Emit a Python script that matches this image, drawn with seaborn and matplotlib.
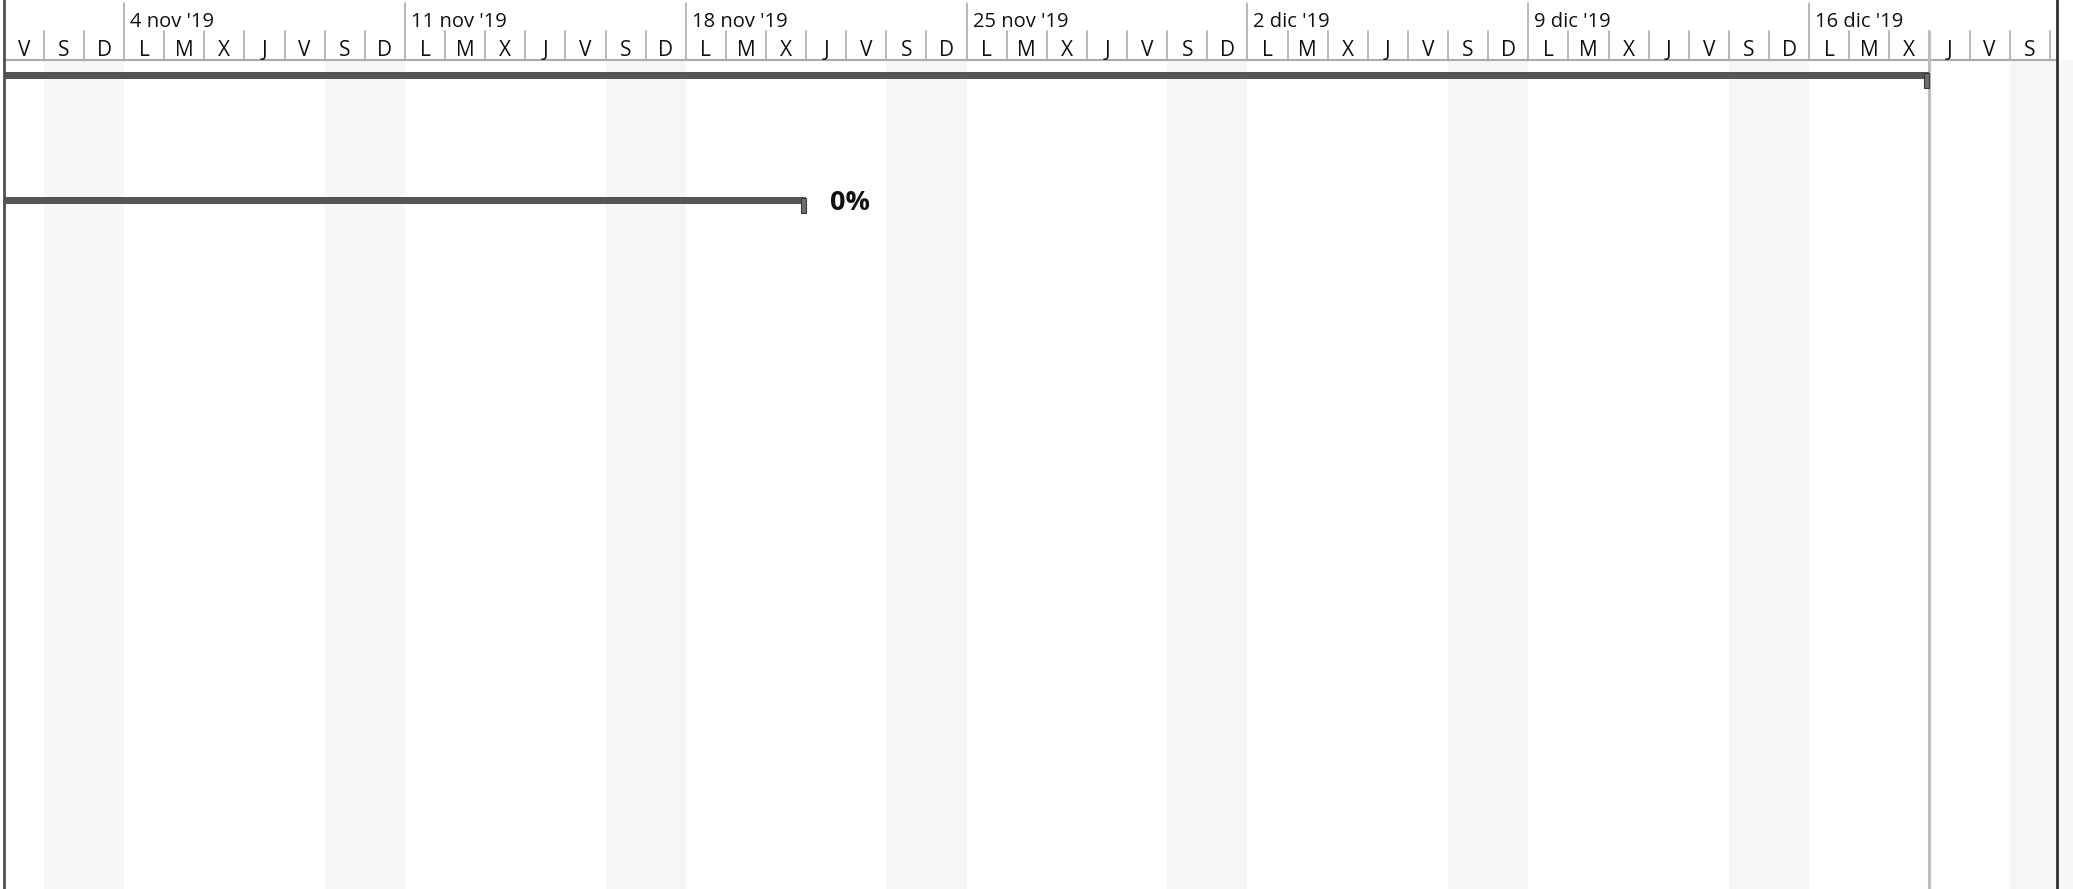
import numpy as np
import pandas as pd
import matplotlib
matplotlib.use("Agg")
import matplotlib.pyplot as plt
import matplotlib.dates as mdates
import seaborn as sns

# ---------------- data ----------------
view_start = "2019-11-01"            # first visible day (Friday)
view_days = 51                       # visible day columns (Nov 1 .. Dec 21)
day_letters = ["L", "M", "X", "J", "V", "S", "D"]   # Monday .. Sunday
month_abbr = ["ene", "feb", "mar", "abr", "may", "jun",
              "jul", "ago", "sep", "oct", "nov", "dic"]

task_starts = ["2019-10-28", "2019-10-28"]
task_ends = ["2019-12-19", "2019-11-21"]      # exclusive end (bar ends at start of this day)
task_labels = ["", "0%"]
status_date = "2019-12-19"

# ---------------- style ----------------
sns.set_theme(style="white")
plt.rcParams["font.family"] = ["Open Sans", "Noto Sans", "DejaVu Sans"]

W, H, DPI = 2073, 889, 100
DAY_PX = 40.12
LEFT_PX = 3.7
HEADER_BOTTOM = 60
ROW_Y = [75, 200]
BAR_H = 7
HDR_FS = 15

fig = plt.figure(figsize=(W / DPI, H / DPI), dpi=DPI)
ax = fig.add_axes([0, 0, 1, 1])
ax.set_axis_off()

d0 = mdates.date2num(pd.Timestamp(view_start))
px = 1.0 / DAY_PX  # one pixel in days
x_min = d0 - LEFT_PX * px
ax.set_xlim(x_min, x_min + W * px)
ax.set_ylim(H, 0)

days = pd.date_range(view_start, periods=view_days, freq="D")
dnum = mdates.date2num(days)

# weekend shading
for d, dn in zip(days, dnum):
    if d.weekday() == 5:
        ax.axvspan(dn, dn + 2, ymin=0, ymax=1 - HEADER_BOTTOM / H,
                   color="#F6F6F6", lw=0, zorder=0)

# header separators & labels
sep_col = "#ABABAB"
hdr_font = ["Open Sans", "Noto Sans", "DejaVu Sans"]
for d, dn in zip(days, dnum):
    if d.weekday() == 0:
        ax.plot([dn, dn], [3, HEADER_BOTTOM], color=sep_col, lw=1.2, zorder=2)
        ax.text(dn + 6 * px, 27, f"{d.day} {month_abbr[d.month - 1]} '{d.strftime('%y')}",
                fontsize=HDR_FS - 0.5, family=hdr_font, color="#111111",
                va="baseline", ha="left", zorder=3)
    else:
        if dn > d0:
            ax.plot([dn, dn], [31, HEADER_BOTTOM], color=sep_col, lw=1.2, zorder=2)
    ax.text(dn + 0.5, 55.5, day_letters[d.weekday()], fontsize=HDR_FS, family=hdr_font,
            color="#111111", va="baseline", ha="center", zorder=3)
# closing separator after last day
end_dn = dnum[-1] + 1
ax.plot([end_dn, end_dn], [31, HEADER_BOTTOM], color=sep_col, lw=1.2, zorder=2)

# header bottom line
right_border = end_dn + 7 * px
ax.plot([d0, right_border], [HEADER_BOTTOM, HEADER_BOTTOM], color=sep_col, lw=1.5, zorder=2)

# status line
sd = mdates.date2num(pd.Timestamp(status_date))
ax.plot([sd, sd], [31, H], color="#BDBDBD", lw=2.2, zorder=2)

# borders
ax.plot([d0, d0], [0, H], color="#505050", lw=2, zorder=5)
ax.plot([right_border, right_border], [0, H], color="#303030", lw=2, zorder=5)

# summary bars (clipped at the visible start)
starts = np.maximum(mdates.date2num(pd.to_datetime(task_starts)), d0)
ends = mdates.date2num(pd.to_datetime(task_ends))
ax.barh(ROW_Y, ends - starts, left=starts, height=BAR_H, color="#555555", lw=0, zorder=4)
cap_w = 5 * px
ax.bar(ends - cap_w, 15, bottom=np.array(ROW_Y) - BAR_H / 2 + 1, width=cap_w, align="edge",
       color="#6E6E6E", edgecolor="#3A3A3A", lw=0.8, zorder=4.5)
for e, y, lab in zip(ends, ROW_Y, task_labels):
    if lab:
        ax.text(e + 24 * px, y + 10, lab, fontsize=19.5, fontweight="bold",
                family=["Open Sans", "DejaVu Sans"], color="#111111",
                va="baseline", ha="left", zorder=6)

fig.savefig("out.png", dpi=DPI)
